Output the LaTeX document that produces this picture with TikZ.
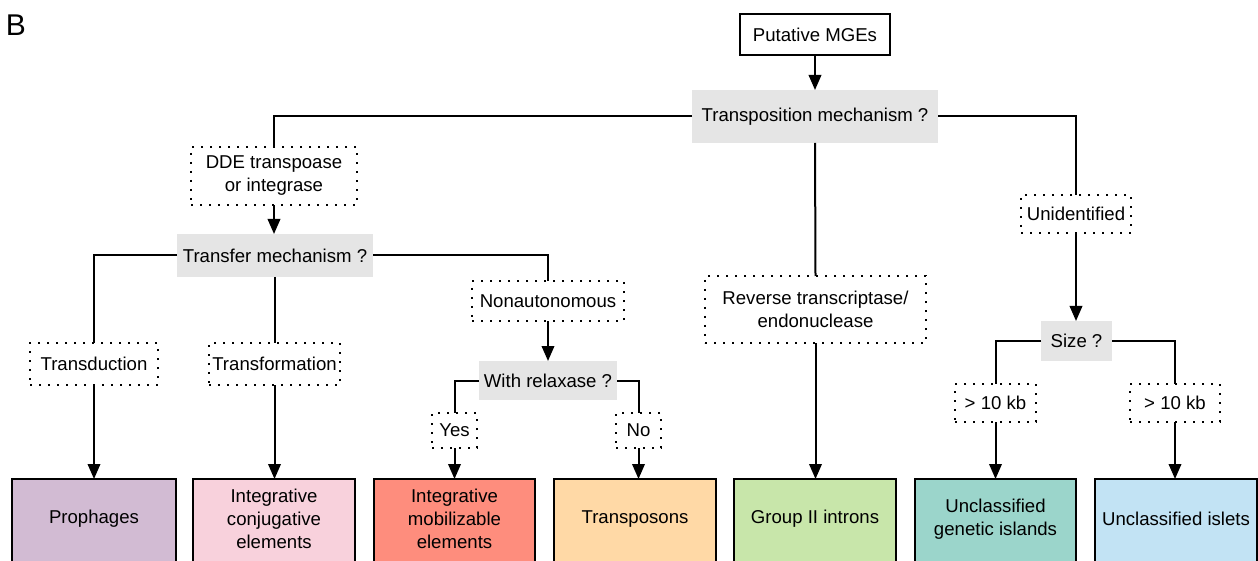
\documentclass[tikz,border=0pt]{standalone}
\usepackage{fontspec}
\setmainfont{Liberation Sans}
\usetikzlibrary{arrows.meta}
\definecolor{qgray}{HTML}{E5E5E5}
\definecolor{cpro}{HTML}{D2BBD3}
\definecolor{cice}{HTML}{F8D1DC}
\definecolor{cime}{HTML}{FE8D7D}
\definecolor{ctpn}{HTML}{FFD9A6}
\definecolor{cgr}{HTML}{C8E6AA}
\definecolor{cugi}{HTML}{9BD5CB}
\definecolor{cisl}{HTML}{C2E3F4}
\begin{document}
\begin{tikzpicture}[x=1pt,y=-1pt,
  every node/.style={font=\fontsize{18.6}{23}\selectfont, align=center, inner sep=0pt, outer sep=0pt},
  plainbox/.style 2 args={draw, line width=2pt, minimum width=#1, minimum height=#2},
  qbox/.style 2 args={fill=qgray, minimum width=#1, minimum height=#2},
  dotbox/.style 2 args={draw, line width=1.8pt, dash pattern=on 1.8pt off 7.2pt, minimum width=#1, minimum height=#2},
  finbox/.style 2 args={draw, line width=2pt, fill=#1, minimum width=#2, minimum height=121},
  ln/.style={line width=2pt},
  ar/.style={line width=2pt, -{Triangle[length=15pt,width=12.5pt]}}]
\useasboundingbox (0,0) rectangle (1258,561);
\begin{scope}
\clip (0,0) rectangle (1258,561);
\node[font=\fontsize{30}{32}\selectfont] (lbl) at (16,25) {B};

\node[plainbox={150}{41}] (put) at (815,35) {Putative MGEs};
\node[qbox={246}{53}] (tp) at (815,116.5) {Transposition mechanism ?};
\node[dotbox={166}{58}] (dde) at (274,176) {DDE transpoase\\or integrase};
\node[qbox={196}{43}] (tm) at (275,255.5) {Transfer mechanism ?};
\node[dotbox={128}{42}] (tdn) at (94,364) {Transduction};
\node[dotbox={131}{42}] (tfm) at (274.5,364) {Transformation};
\node[dotbox={152}{40}] (non) at (548,301) {Nonautonomous};
\node[qbox={138}{39}] (rel) at (548,380.5) {With relaxase ?};
\node[dotbox={45}{35}] (yes) at (454.5,430.5) {Yes};
\node[dotbox={45}{35}] (no) at (638.5,430.5) {No};
\node[dotbox={221}{67}] (rt) at (815.5,309.5) {Reverse transcriptase/\\endonuclease};
\node[dotbox={110}{38}] (uni) at (1076,214) {Unidentified};
\node[qbox={71}{40}] (size) at (1076.5,341) {Size ?};
\node[dotbox={81}{38}] (kb1) at (995.5,403) {> 10 kb};
\node[dotbox={90}{38}] (kb2) at (1175,403) {> 10 kb};

\node[finbox={cpro}{164}] (pro) at (94,539.5) {};
\node[finbox={cice}{162}] (ice) at (274,539.5) {};
\node[finbox={cime}{161}] (ime) at (454.5,539.5) {};
\node[finbox={ctpn}{162}] (tpn) at (635,539.5) {};
\node[finbox={cgr}{162}] (gr) at (815,539.5) {};
\node[finbox={cugi}{161}] (ugi) at (995.5,539.5) {};
\node[finbox={cisl}{162}] (isl) at (1176,539.5) {};

\node (proT) at (94,519) {Prophages};
\node (iceT) at (274,519) {Integrative\\conjugative\\elements};
\node (imeT) at (454.5,519) {Integrative\\mobilizable\\elements};
\node (tpnT) at (635,519) {Transposons};
\node (grT) at (815,519) {Group II introns};
\node (ugiT) at (995.5,519) {Unclassified\\genetic islands};
\node (islT) at (1176,519) {Unclassified islets};

\draw[ar] (put.south) -- (tp.north);
\draw[ln] (tp.west) -| (dde.north);
\draw[ln] (tp.east) -| (uni.north);
\draw[ln] (tp.south) -- (rt.north);
\draw[ar] (dde.south) -- (dde.south |- tm.north);
\draw[ln] (tm.west) -| (tdn.north);
\draw[ln] (tm.south) -- (tm.south |- tfm.north);
\draw[ln] (tm.east) -| (non.north);
\draw[ar] (non.south) -- (rel.north);
\draw[ln] (rel.west) -| (yes.north);
\draw[ln] (rel.east) -| (no.north);
\draw[ar] (tdn.south) -- (pro.north);
\draw[ar] (tfm.south) -- (tfm.south |- ice.north);
\draw[ar] (yes.south) -- (ime.north);
\draw[ar] (no.south) -- (no.south |- tpn.north);
\draw[ar] (rt.south) -- (rt.south |- gr.north);
\draw[ar] (uni.south) -- (uni.south |- size.north);
\draw[ln] (size.west) -| (kb1.north);
\draw[ln] (size.east) -| (kb2.north);
\draw[ar] (kb1.south) -- (kb1.south |- ugi.north);
\draw[ar] (kb2.south) -- (kb2.south |- isl.north);
\end{scope}
\end{tikzpicture}
\end{document}
